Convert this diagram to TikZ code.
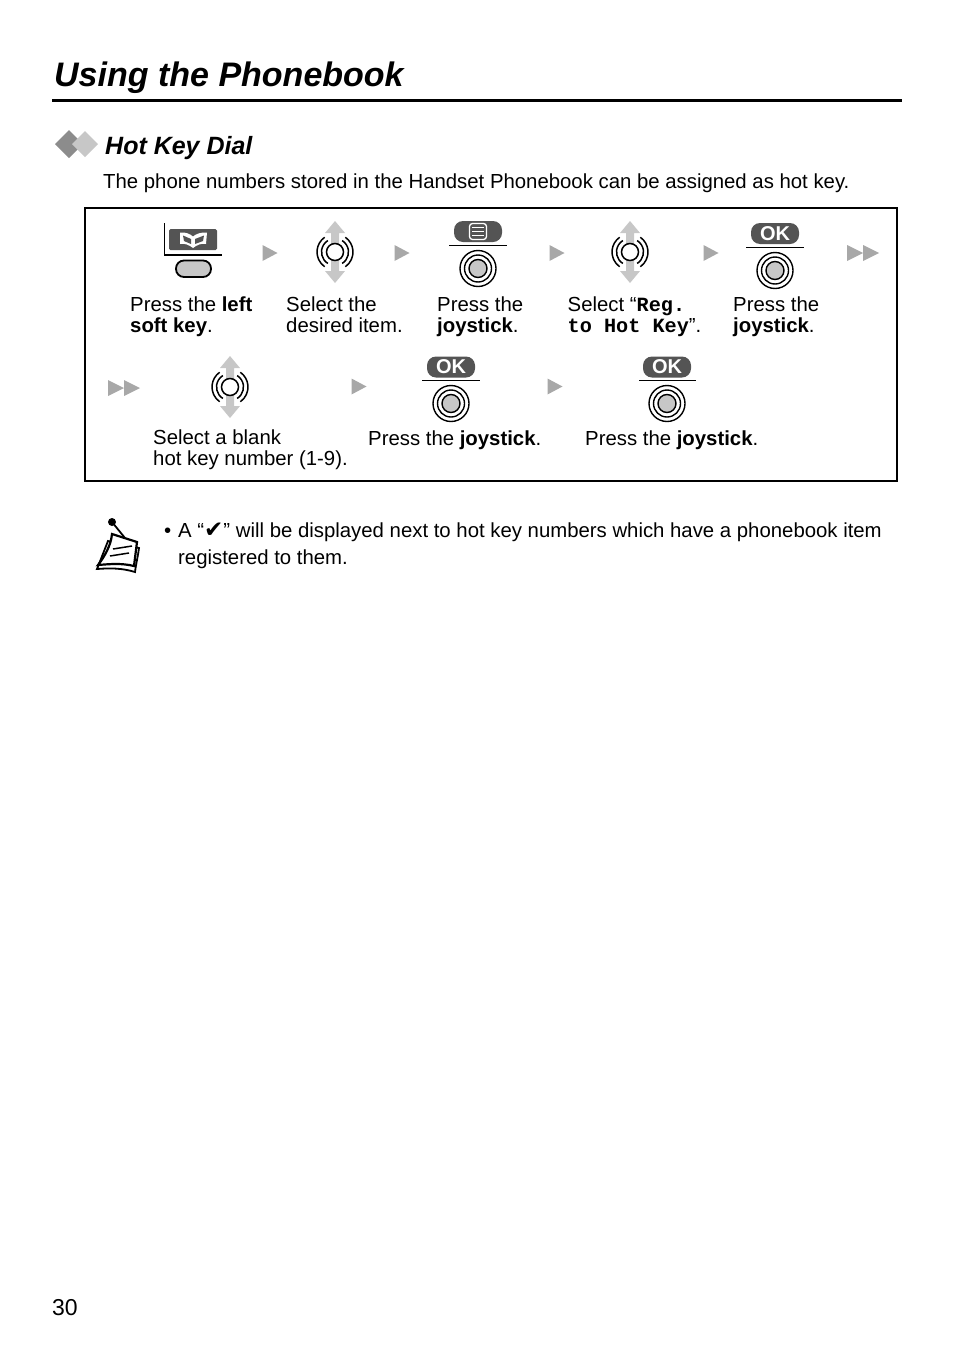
\documentclass[tikz,border=0pt]{standalone}
\usepackage{fontspec}
\setmainfont{Liberation Sans}
\setmonofont{Liberation Mono}
\newfontfamily\marksymbol{DejaVu Sans}
\definecolor{keydark}{gray}{0.33}
\definecolor{keygray}{gray}{0.78}
\definecolor{nextgray}{gray}{0.66}
\definecolor{movegray}{gray}{0.78}
\tikzset{
    x=1pt, y=-1pt,
    steptext/.style={anchor=base west, align=left, inner sep=0pt,
        font=\fontsize{20.35}{21}\selectfont},
    nextmark/.pic={\fill[nextgray] (-7.5,-8) -- (7.5,0) -- (-7.5,8) -- cycle;},
    nextdouble/.pic={
        \fill[nextgray] (-16,-8) -- (0,0) -- (-16,8) -- cycle;
        \fill[nextgray] (0,-8) -- (16,0) -- (0,8) -- cycle;
    },
    joypress/.pic={
        \draw[line width=1.4, fill=white] (0,0) circle[radius=18];
        \draw[line width=1.4] (0,0) circle[radius=13.5];
        \draw[line width=1.4, fill=keygray] (0,0) circle[radius=9];
    },
    joyselect/.pic={
        \fill[movegray] (0,-31) -- (10,-19) -- (4,-19) -- (4,19) -- (10,19) -- (0,31) -- (-10,19) -- (-4,19) -- (-4,-19) -- (-10,-19) -- cycle;
        \draw[line width=1.5] (125:18) arc[start angle=125,end angle=235,radius=18];
        \draw[line width=1.5] (55:18) arc[start angle=55,end angle=-55,radius=18];
        \draw[line width=1.5] (122:13.5) arc[start angle=122,end angle=238,radius=13.5];
        \draw[line width=1.5] (58:13.5) arc[start angle=58,end angle=-58,radius=13.5];
        \draw[line width=1.5, fill=white] (0,0) circle[radius=8.5];
    },
    okkey/.pic={
        \fill[keydark, rounded corners=9] (-24,-10.5) rectangle (24,10.5);
        \node[white, inner sep=0pt, font=\fontsize{20}{20}\bfseries\selectfont] at (0,0) {OK};
    },
}
\begin{document}
\begin{tikzpicture}
    \useasboundingbox (0,0) rectangle (954,1352);

    \node[anchor=base west, inner sep=0pt, font=\fontsize{34}{34}\bfseries\itshape\selectfont] (title) at (54,86) {Using the Phonebook};
    \draw[line width=3] (52,100) -- (902,100);

    \fill[gray!90] (69,130) -- (83,144) -- (69,158) -- (55,144) -- cycle;
    \fill[keygray] (85,131) -- (98,144) -- (85,157) -- (72,144) -- cycle;
    \node[anchor=base west, inner sep=0pt, font=\fontsize{25}{25}\bfseries\itshape\selectfont] (head) at (105,154) {Hot Key Dial};
    \node[steptext] (intro) at (103,188) {The phone numbers stored in the Handset Phonebook can be assigned as hot key.};

    \draw[line width=2] (85,208) rectangle (897,481);

    % first row
    \draw[line width=1.3] (164.5,223) -- (164.5,255) -- (222,255);
    \fill[keydark, rounded corners=1.5] (169,229) rectangle (217,250);
    \fill[white] (180,232.5) .. controls (186,232) and (190,234) .. (193,236.5) .. controls (196,234) and (201,232) .. (207,232.5) -- (206,244) .. controls (201,243) and (197,245) .. (193,248) .. controls (189,245) and (185,243) .. (180,244) -- cycle;
    \fill[keydark] (183,235.5) -- (191,239) -- (191,244) -- (184,241) -- cycle;
    \fill[keydark] (204,235.5) -- (195,239) -- (195,244) -- (203,241) -- cycle;
    \draw[line width=1.8, fill=keygray, rounded corners=8] (176,260.5) rectangle (211,277);
    \pic at (270,253) {nextmark};
    \pic at (335,252) {joyselect};
    \pic at (402,253) {nextmark};
    \fill[keydark, rounded corners=9] (454,221) rectangle (502,242);
    \draw[white, fill=keydark, line width=1.3, rounded corners=3] (469.5,223.5) rectangle (486.5,239.5);
    \draw[white, line width=1] (472,227.5) -- (484,227.5) (472,231.5) -- (484,231.5) (472,235.5) -- (484,235.5);
    \draw[line width=1.5] (449,245.5) -- (507,245.5);
    \pic at (478,268.5) {joypress};
    \pic at (557,253) {nextmark};
    \pic at (630,252) {joyselect};
    \pic at (711,253) {nextmark};
    \pic at (775,233.5) {okkey};
    \draw[line width=1.5] (746,247.5) -- (804,247.5);
    \pic at (775,270.5) {joypress};
    \pic at (863,253) {nextdouble};

    \node[steptext] (left) at (130,332) {Press the \textbf{left}\\\textbf{soft key}.};
    \node[steptext] (desired) at (286,332) {Select the\\desired item.};
    \node[steptext] (joyone) at (437,332) {Press the\\\textbf{joystick}.};
    \node[steptext] (reg) at (567.5,332) {Select “{\ttfamily\fontsize{20.2}{21}\selectfont\bfseries Reg.}\\{\ttfamily\fontsize{20.2}{21}\selectfont\bfseries to Hot Key}”.};
    \node[steptext] (joytwo) at (733,332) {Press the\\\textbf{joystick}.};

    % second row
    \pic at (124,388) {nextdouble};
    \pic at (230,387) {joyselect};
    \pic at (359,386.5) {nextmark};
    \pic at (451,367) {okkey};
    \draw[line width=1.5] (422,380.5) -- (480,380.5);
    \pic at (451,403.5) {joypress};
    \pic at (555,386.5) {nextmark};
    \pic at (667,367) {okkey};
    \draw[line width=1.5] (639,380.5) -- (696,380.5);
    \pic at (667,403.5) {joypress};

    \node[steptext] (blank) at (153,465) {Select a blank\\hot key number (1-9).};
    \node[steptext] (joythree) at (368,445) {Press the \textbf{joystick}.};
    \node[steptext] (joyfour) at (585,445) {Press the \textbf{joystick}.};

    % note
    \draw[line width=1.8, fill=white] (108,541) -- (139,548) .. controls (138,556) and (136,564) .. (135,572) .. controls (122,568) and (110,568) .. (97,569) -- cycle;
    \draw[line width=2.2, fill=white] (112,534) -- (137,542) .. controls (136,550) and (135,558) .. (134,566) .. controls (122,563) and (110,564) .. (98,565) .. controls (105,556) and (111,545) .. (112,534) -- cycle;
    \draw[line width=1.5] (113,549) -- (132,546) (110,556) -- (129,553);
    \draw[line width=1.8] (112,522) -- (125,538);
    \fill (112,522) circle[radius=4];

    \node[steptext] (bullet) at (164,537) {•};
    \node[steptext] (note) at (178,564) {A “{\marksymbol\fontsize{23}{19}\selectfont ✔}” will be displayed next to hot key numbers which have a phonebook item\\[6pt]registered to them.};

    \node[anchor=base west, inner sep=0pt, font=\fontsize{23}{23}\selectfont] (page) at (52,1315) {30};
\end{tikzpicture}
\end{document}
